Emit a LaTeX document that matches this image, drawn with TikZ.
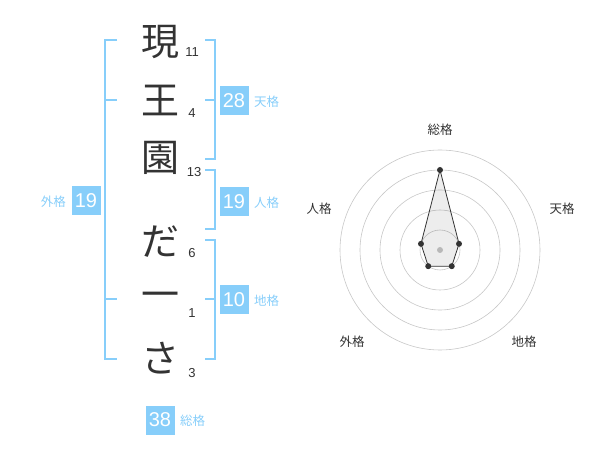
\documentclass[tikz,border=0pt]{standalone}
\usepackage{fontspec}
\setmainfont{Noto Sans CJK JP}
\newfontfamily\numfont{Liberation Sans}
\definecolor{kakublue}{HTML}{87CEFA}
\definecolor{ink}{HTML}{333333}
\tikzset{
	kanji/.style={text=ink, inner sep=0pt, font=\fontsize{38}{38}\selectfont},
	strokes/.style={text=ink, inner sep=0pt, font=\numfont\fontsize{13}{13}\selectfont},
	kakubox/.style={fill=kakublue, text=white, minimum size=29pt, inner sep=0pt, font=\numfont\fontsize{20}{20}\selectfont},
	kakulabel/.style={text=kakublue, inner sep=0pt, anchor=west, font=\fontsize{12.5}{12.5}\selectfont},
	bracket/.style={draw=kakublue, line width=2pt},
	ring/.style={draw=black!22, line width=0.6pt},
	axislabel/.style={text=ink, inner sep=0pt, font=\fontsize{12.5}{12.5}\selectfont},
	dot/.style={fill=ink, circle, inner sep=0pt, minimum size=6pt}
}

\begin{document}
\begin{tikzpicture}[x=1pt, y=-1pt]
	% рамка картинки
	\useasboundingbox (0,0) rectangle (600,470);

	% имя и черты
	\node[kanji] (c1) at (160,42)  {現};
	\node[kanji] (c2) at (160,100) {王};
	\node[kanji] (c3) at (160,158) {園};
	\node[kanji] (c4) at (160,242) {だ};
	\node[kanji] (c5) at (160,300) {一};
	\node[kanji] (c6) at (160,358) {さ};
	\node[strokes] (n1) at (192,52)  {11};
	\node[strokes] (n2) at (192,113) {4};
	\node[strokes] (n3) at (194,172) {13};
	\node[strokes] (n4) at (192,253) {6};
	\node[strokes] (n5) at (192,313) {1};
	\node[strokes] (n6) at (192,373) {3};

	% скобки
	\draw[bracket] (117,40) -- (105,40) -- (105,359) -- (117,359);
	\draw[bracket] (105,100) -- (117,100);
	\draw[bracket] (105,299) -- (117,299);
	\draw[bracket] (205,40) -- (215,40) -- (215,159) -- (205,159);
	\draw[bracket] (215,100) -- (205,100);
	\draw[bracket] (205,170) -- (215,170) -- (215,229) -- (205,229);
	\draw[bracket] (205,240) -- (215,240) -- (215,359) -- (205,359);
	\draw[bracket] (215,299) -- (205,299);

	% оценки
	\node[kakubox] (ten) at (234,101) {28};
	\node[kakulabel] at (254,102) {天格};
	\node[kakubox] (jin) at (234,202) {19};
	\node[kakulabel] at (254,203) {人格};
	\node[kakubox] (chi) at (234,300) {10};
	\node[kakulabel] at (254,301) {地格};
	\node[kakubox] (gai) at (86,201) {19};
	\node[kakulabel, anchor=east] at (66,202) {外格};
	\node[kakubox] (sou) at (160,420) {38};
	\node[kakulabel] at (180,421) {総格};

	% диаграмма
	\begin{scope}[shift={(440,250)}, y=1pt]
		\foreach \r in {20,40,...,100}
			\draw[ring] (0,0) circle (\r);
		\fill[black!22] (0,0) circle (3);

		\coordinate (pSou) at (90:80);
		\coordinate (pTen) at (18:20);
		\coordinate (pChi) at (-54:20);
		\coordinate (pGai) at (-126:20);
		\coordinate (pJin) at (162:20);
		\draw[ink, fill=black, fill opacity=0.07, line width=0.8pt]
			(pSou) -- (pTen) -- (pChi) -- (pGai) -- (pJin) -- cycle;
		\foreach \p in {pSou,pTen,pChi,pGai,pJin}
			\node[dot] at (\p) {};

		\node[axislabel] (lSou) at (0,120)    {総格};
		\node[axislabel] (lTen) at (122,41)   {天格};
		\node[axislabel] (lChi) at (84,-92)   {地格};
		\node[axislabel] (lGai) at (-88,-92)  {外格};
		\node[axislabel] (lJin) at (-121,41)  {人格};
	\end{scope}
\end{tikzpicture}
\end{document}
